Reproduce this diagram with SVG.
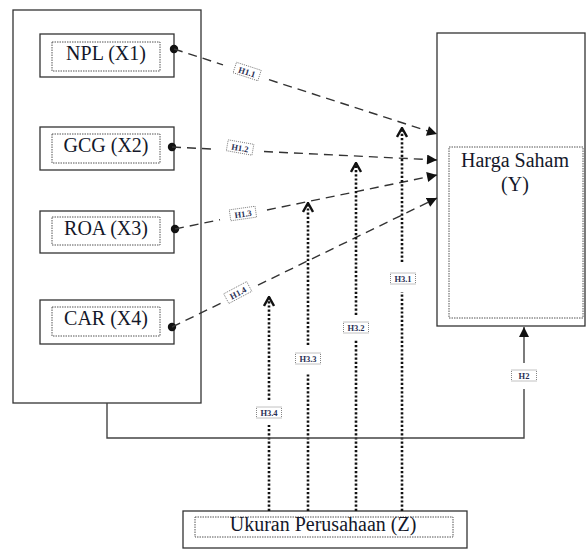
<svg xmlns="http://www.w3.org/2000/svg" width="586" height="549" viewBox="0 0 586 549">
<defs>
<style>
.box{fill:#fff;stroke:#333;stroke-width:1.3}
.inner{fill:none;stroke:#555;stroke-width:1;stroke-dasharray:1.5 1}
.t{font-family:"Liberation Serif","Times New Roman",serif;font-size:20px;fill:#14182a;text-anchor:middle}
.dash{fill:none;stroke:#333;stroke-width:1.4;stroke-dasharray:9 6}
.dot{fill:none;stroke:#111;stroke-width:2.6;stroke-dasharray:2.2 2}
.solid{fill:none;stroke:#444;stroke-width:1.4}
.lb{fill:#fff;stroke:#666;stroke-width:0.8;stroke-dasharray:1 1}
.lt{font-family:"Liberation Serif","Times New Roman",serif;font-size:8.5px;font-weight:bold;fill:#2a2f55;text-anchor:middle}
</style>
<marker id="tri" viewBox="0 0 10 10" refX="10" refY="5" markerWidth="11" markerHeight="10" markerUnits="userSpaceOnUse" orient="auto">
<path d="M0,0 L10,5 L0,10 z" fill="#111"/>
</marker>
<marker id="chev" viewBox="0 0 12 12" refX="11" refY="6" markerWidth="12" markerHeight="12" markerUnits="userSpaceOnUse" orient="auto">
<path d="M2,1 L11,6 L2,11" fill="none" stroke="#111" stroke-width="2.4"/>
</marker>
</defs>
<rect width="586" height="549" fill="#fff"/>

<g id="left-group">
<rect class="box" x="13" y="10" width="188" height="393"/>
</g>
<g id="npl">
<rect class="box" x="40" y="34" width="134" height="43"/>
<rect class="inner" x="52" y="42" width="108" height="29"/>
<text class="t" x="106" y="60">NPL (X1)</text>
</g>
<g id="gcg">
<rect class="box" x="40" y="127" width="134" height="43"/>
<rect class="inner" x="52" y="134" width="108" height="29"/>
<text class="t" x="106" y="152">GCG (X2)</text>
</g>
<g id="roa">
<rect class="box" x="40" y="211" width="134" height="42"/>
<rect class="inner" x="52" y="217" width="108" height="28"/>
<text class="t" x="106" y="235">ROA (X3)</text>
</g>
<g id="car">
<rect class="box" x="40" y="300" width="134" height="44"/>
<rect class="inner" x="52" y="307" width="108" height="29"/>
<text class="t" x="106" y="325">CAR (X4)</text>
</g>
<g id="harga">
<rect class="box" x="437" y="33" width="148" height="293"/>
<rect class="inner" x="449" y="147" width="134" height="171"/>
<text class="t" x="515" y="167">Harga Saham</text>
<text class="t" x="515" y="191">(Y)</text>
</g>
<g id="ukuran">
<rect class="box" x="183" y="511" width="284" height="37"/>
<rect class="inner" x="195" y="517" width="258" height="20"/>
<text class="t" x="323" y="531">Ukuran Perusahaan (Z)</text>
</g>

<g id="connectors">
<circle cx="174" cy="49" r="4.2" fill="#111"/>
<circle cx="172" cy="147" r="4.2" fill="#111"/>
<circle cx="175" cy="229" r="4.2" fill="#111"/>
<circle cx="172" cy="327" r="4.2" fill="#111"/>
<line class="dash" x1="174" y1="49" x2="223" y2="64.8"/>
<line class="dash" x1="269" y1="79.7" x2="437" y2="134" marker-end="url(#tri)"/>
<line class="dash" x1="172" y1="147" x2="212" y2="149"/>
<line class="dash" x1="264" y1="151.5" x2="437" y2="160" marker-end="url(#tri)"/>
<line class="dash" x1="175" y1="229" x2="220" y2="219.7"/>
<line class="dash" x1="267" y1="210" x2="437" y2="175" marker-end="url(#tri)"/>
<line class="dash" x1="172" y1="327" x2="222" y2="302.7"/>
<line class="dash" x1="258" y1="285.1" x2="437" y2="198" marker-end="url(#tri)"/>

<line class="dot" x1="402" y1="511" x2="402" y2="292"/>
<line class="dot" x1="402" y1="262" x2="402" y2="128" marker-end="url(#chev)"/>
<line class="dot" x1="356" y1="511" x2="356" y2="340"/>
<line class="dot" x1="356" y1="315" x2="356" y2="163" marker-end="url(#chev)"/>
<line class="dot" x1="308" y1="511" x2="308" y2="373"/>
<line class="dot" x1="308" y1="345" x2="308" y2="203" marker-end="url(#chev)"/>
<line class="dot" x1="269" y1="511" x2="269" y2="425"/>
<line class="dot" x1="269" y1="400" x2="269" y2="297" marker-end="url(#chev)"/>

<polyline class="solid" points="107,403 107,438 524,438 524,389"/>
<line class="solid" x1="524" y1="363" x2="524" y2="327" marker-end="url(#tri)"/>

<g transform="translate(247,72) rotate(18)"><rect class="lb" x="-13" y="-6" width="26" height="11"/><text class="lt" y="3">H1.1</text></g>
<g transform="translate(240,148) rotate(10)"><rect class="lb" x="-13" y="-6" width="26" height="11"/><text class="lt" y="3">H1.2</text></g>
<g transform="translate(243,214) rotate(-8)"><rect class="lb" x="-13" y="-6" width="26" height="11"/><text class="lt" y="3">H1.3</text></g>
<g transform="translate(238,293) rotate(-28)"><rect class="lb" x="-13" y="-6" width="26" height="11"/><text class="lt" y="3">H1.4</text></g>
<g transform="translate(403,279)"><rect class="lb" x="-12.5" y="-6" width="25" height="11"/><text class="lt" y="3">H3.1</text></g>
<g transform="translate(356,328)"><rect class="lb" x="-12.5" y="-6" width="25" height="11"/><text class="lt" y="3">H3.2</text></g>
<g transform="translate(308,359)"><rect class="lb" x="-12.5" y="-6" width="25" height="11"/><text class="lt" y="3">H3.3</text></g>
<g transform="translate(269,413)"><rect class="lb" x="-12.5" y="-6" width="25" height="11"/><text class="lt" y="3">H3.4</text></g>
<g transform="translate(524,376)"><rect class="lb" x="-12.5" y="-6" width="25" height="11"/><text class="lt" y="3">H2</text></g>
</g>
</svg>
